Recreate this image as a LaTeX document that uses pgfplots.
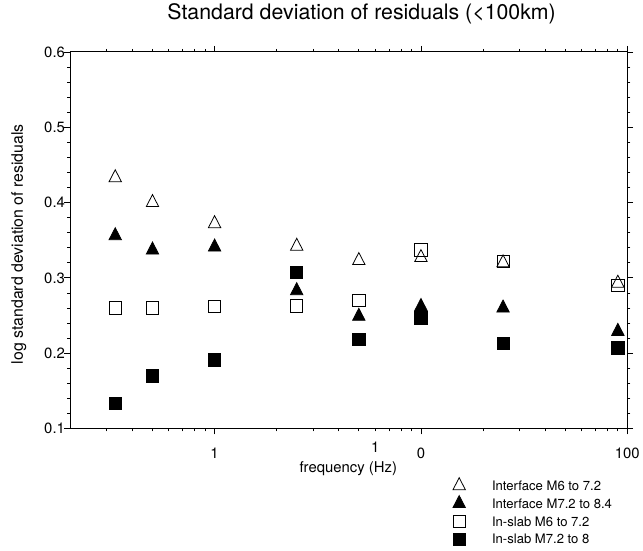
\documentclass[border=0pt]{standalone}
\usepackage{fontspec}
\setmainfont{TeX Gyre Heros}
\usepackage{pgfplots}
\pgfplotsset{compat=1.18}

\begin{document}
\begin{tikzpicture}
\begin{axis}[
    at={(0pt,0pt)}, anchor=south west,
    scale only axis,
    width=562pt, height=380pt,
    xmode=log,
    xmin=0.2, xmax=100,
    ymin=0.1, ymax=0.6,
    xtick={1,10,100},
    xticklabels={1,0,100},
    extra x ticks={6},
    extra x tick labels={1},
    extra x tick style={major tick length=0pt},
    minor xtick={0.3,0.4,0.5,0.6,0.7,0.8,0.9,2,3,4,5,6,7,8,9,20,30,40,50,60,70,80,90},
    ytick={0.1,0.2,0.3,0.4,0.5,0.6},
    minor y tick num=4,
    /pgf/number format/assume math mode=true,
    tick align=outside,
    major tick length=6pt,
    minor tick length=3pt,
    tick style={black, line width=0.8pt},
    axis line style={line width=0.9pt},
    ticklabel style={font=\fontsize{15}{17}\selectfont},
    xticklabel style={yshift=-10pt},
    yticklabel style={xshift=4pt, /pgf/number format/.cd, fixed, fixed zerofill, precision=1},
    title={Standard deviation of residuals (<100km)},
    title style={font=\fontsize{21.5}{25}\selectfont, at={(axis description cs:0.523,1.0711)}, anchor=base},
    xlabel={frequency (Hz)},
    xlabel style={font=\fontsize{15}{17}\selectfont, at={(axis description cs:0.499,-0.1158)}, anchor=base},
    ylabel={log standard deviation of residuals},
    ylabel style={font=\fontsize{16}{18}\selectfont, at={(axis description cs:-0.0925,0.4895)}, anchor=center},
    legend cell align=left,
    legend image code/.code={%
        \begin{pgfinterruptboundingbox}
        \draw[#1] plot coordinates {(0pt,1.7pt)};
        \end{pgfinterruptboundingbox}
        \path (-8pt,-1pt) (33pt,1pt);},
    legend style={
        at={(axis description cs:0.6832,-0.1387)}, anchor=north west,
        draw=none, fill=none, inner xsep=0pt, inner ysep=0pt,
        row sep=5pt, column sep=0pt,
        nodes={inner sep=0pt, text height=9.5pt, text depth=3.5pt},
        font=\fontsize{13.2}{15}\selectfont},
]
% interface M6 to 7.2
\addplot[only marks, mark=triangle, mark size=7.2pt, mark options={black, line width=0.8pt, yscale=1.12}]
    coordinates {(0.33,0.433) (0.5,0.400) (1,0.372) (2.5,0.342) (5,0.323) (10,0.327) (25,0.320) (90,0.293)};
\addlegendentry{Interface M6 to 7.2}
% interface M7.2 to 8.4
\addplot[only marks, mark=triangle*, mark size=7.2pt, mark options={black, fill=black, line width=0.8pt, yscale=1.12}]
    coordinates {(0.33,0.356) (0.5,0.337) (1,0.341) (2.5,0.283) (5,0.249) (10,0.262) (25,0.260) (90,0.229)};
\addlegendentry{Interface M7.2 to 8.4}
% in-slab M6 to 7.2
\addplot[only marks, mark=square, mark size=6.2pt, mark options={black, line width=0.8pt}]
    coordinates {(0.33,0.260) (0.5,0.260) (1,0.262) (2.5,0.263) (5,0.270) (10,0.337) (25,0.322) (90,0.290)};
\addlegendentry{In-slab M6 to 7.2}
% in-slab M7.2 to 8
\addplot[only marks, mark=square*, mark size=6.2pt, mark options={black, fill=black, line width=0.8pt}]
    coordinates {(0.33,0.133) (0.5,0.170) (1,0.191) (2.5,0.307) (5,0.218) (10,0.247) (25,0.213) (90,0.207)};
\addlegendentry{In-slab M7.2 to 8}
\end{axis}
\useasboundingbox (-71pt,-123pt) rectangle (572pt,429pt);
\end{tikzpicture}
\end{document}
